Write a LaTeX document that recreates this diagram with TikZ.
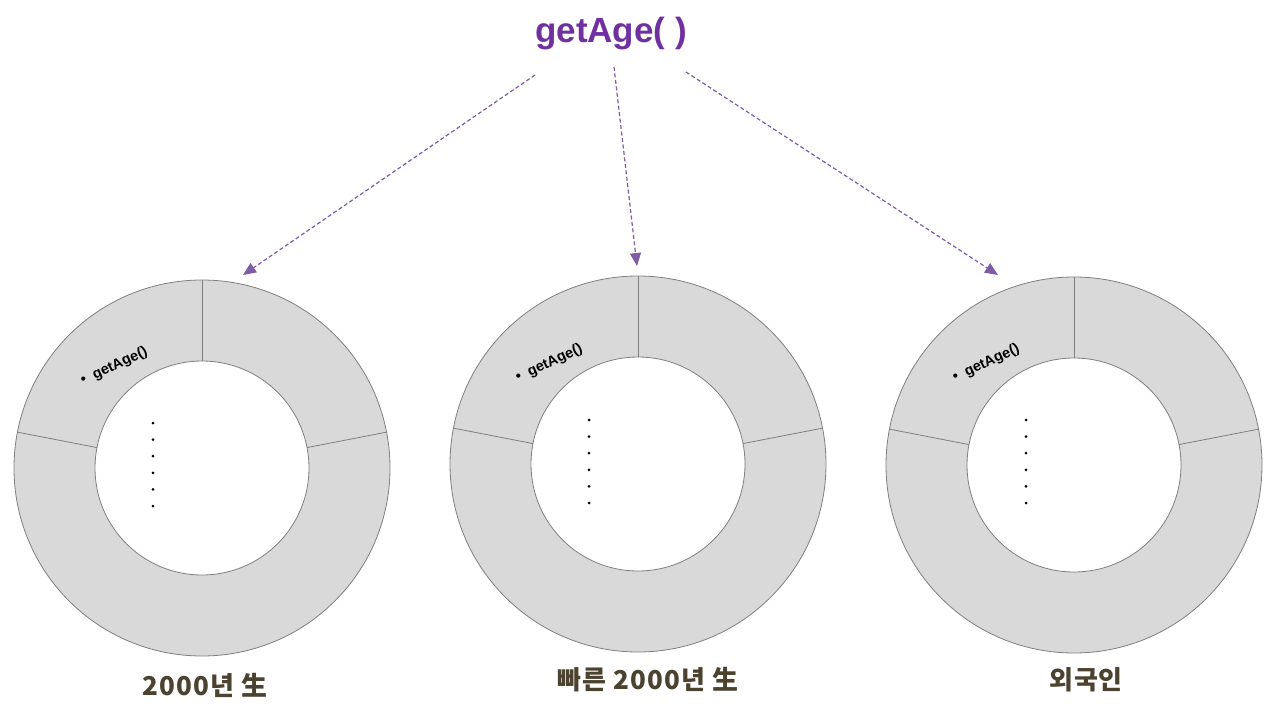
\documentclass[tikz,border=0pt]{standalone}
\usepackage{fontspec}
\setmainfont{Liberation Sans}
\newfontfamily\kr[LetterSpace=4]{Noto Sans CJK KR}
\usetikzlibrary{arrows.meta}
\definecolor{ttl}{HTML}{7030A0}
\definecolor{arr}{HTML}{7E5CA7}
\definecolor{ringfill}{HTML}{D9D9D9}
\definecolor{ringline}{HTML}{7F7F7F}
\definecolor{lbl}{HTML}{4B4330}
\tikzset{
  outerring/.style={circle, draw=ringline, fill=ringfill, line width=0.8pt, minimum size=376pt, inner sep=0pt, outer sep=0pt},
  innerring/.style={circle, draw=ringline, fill=white, line width=0.8pt, minimum size=214pt, inner sep=0pt, outer sep=0pt},
  divider/.style={draw=ringline, line width=0.8pt},
  dasharrow/.style={draw=arr, line width=1.2pt, dash pattern=on 4pt off 2.5pt, -{Triangle[length=13pt,width=11pt]}},
  itemtxt/.style={font=\bfseries\fontsize{14.5}{16}\selectfont, rotate=25, anchor=base west, inner sep=0pt},
  dotmark/.style={circle, fill=black, inner sep=0pt, minimum size=3pt},
  lbltxt/.style={font=\kr\bfseries\fontsize{26}{28}\selectfont, text=lbl},
}
\begin{document}
\begin{tikzpicture}[x=1pt,y=-1pt]
\useasboundingbox (0,0) rectangle (1272,706);
% title
\node[font=\bfseries\fontsize{35}{38}\selectfont, text=ttl] (title) at (611,34) {getAge( )};
% rings
\foreach \i/\cx/\cy in {1/202/468, 2/638/464, 3/1074/465} {
  \node[outerring] (o\i) at (\cx,\cy) {};
  \node[innerring] (in\i) at (\cx,\cy) {};
  \draw[divider] (in\i.90) -- (o\i.90);
  \draw[divider] (in\i.11) -- (o\i.11);
  \draw[divider] (in\i.169) -- (o\i.169);
}
% items
\node[itemtxt] (t1) at (83,385) {•\hspace{8pt}getAge()};
\node[itemtxt] (t2) at (518,382) {•\hspace{8pt}getAge()};
\node[itemtxt] (t3) at (955,382) {•\hspace{8pt}getAge()};
% vertical dots
\foreach \k in {0,...,5} {
  \node[dotmark] (da\k) at (153,423+16.6*\k) {};
  \node[dotmark] (db\k) at (589,420+16.6*\k) {};
  \node[dotmark] (dc\k) at (1026,420+16.6*\k) {};
}
% arrows
\coordinate (s1) at (535,75);
\coordinate (s2) at (614,67);
\coordinate (s3) at (686,72);
\coordinate (e1) at (243,275);
\coordinate (e2) at (637,266);
\coordinate (e3) at (998,275);
\draw[dasharrow] (s1) -- (e1);
\draw[dasharrow] (s2) -- (e2);
\draw[dasharrow] (s3) -- (e3);
% labels
\node[lbltxt] (l1) at (205,685) {2000년 生};
\node[lbltxt] (l2) at (648,680) {빠른 2000년 生};
\node[lbltxt] (l3) at (1086,680) {외국인};
\end{tikzpicture}
\end{document}
